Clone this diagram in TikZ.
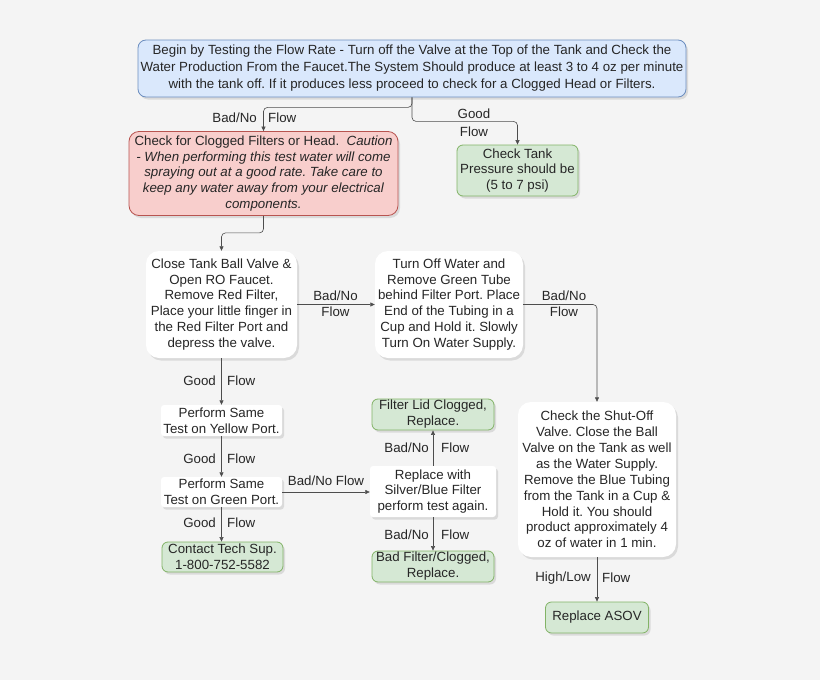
\documentclass[tikz,border=0pt]{standalone}
\usepackage{fontspec}
\setmainfont{Liberation Sans}
\usepackage{xcolor}
\usetikzlibrary{arrows.meta,shadows}

\definecolor{bgc}{HTML}{F4F4F4}
\definecolor{bluefill}{HTML}{DAE8FC}
\definecolor{bluedraw}{HTML}{6C8EBF}
\definecolor{redfill}{HTML}{F8CECC}
\definecolor{reddraw}{HTML}{B85450}
\definecolor{greenfill}{HTML}{D5E8D4}
\definecolor{greendraw}{HTML}{82B366}
\definecolor{linec}{HTML}{4D4D4D}
\newcommand\boxfont{\fontsize{13.3}{15.9}\selectfont\frenchspacing}
\newcommand\topfont{\fontsize{13.3}{17}\selectfont\frenchspacing}

\tikzset{
  box/.style={align=center, inner sep=0pt, font=\boxfont, text=black!85,
    drop shadow={shadow xshift=2pt, shadow yshift=-2.5pt, opacity=0.22}},
  bluebox/.style={box, rounded corners=8pt, fill=bluefill, draw=bluedraw, line width=0.8pt, font=\topfont},
  redbox/.style={box, rounded corners=10pt, fill=redfill, draw=reddraw, line width=0.8pt},
  greenbox/.style={box, rounded corners=6pt, fill=greenfill, draw=greendraw, line width=0.8pt},
  whitebox/.style={box, rounded corners=13pt, fill=white},
  portbox/.style={box, rounded corners=3pt, fill=white},
  conn/.style={draw=linec, line width=0.6pt, -{Triangle[length=4.5pt,width=4pt]}},
  lbl/.style={font=\boxfont, text=black!85, inner sep=0pt}
}

\begin{document}
\begin{tikzpicture}[x=1pt,y=-1pt]
  \fill[bgc] (0,0) rectangle (820,680);
  \useasboundingbox (0,0) rectangle (820,680);

  % boxes
  \node[bluebox, minimum width=548pt, minimum height=57pt] (begin) at (412,68.5)
    {Begin by Testing the Flow Rate - Turn off the Valve at the Top of the Tank and Check the\\
     Water Production From the Faucet.The System Should produce at least 3 to 4 oz per minute\\
     with the tank off. If it produces less proceed to check for a Clogged Head or Filters.};
  \node[redbox, minimum width=269pt, minimum height=84pt] (clog) at (263.5,173.5)
    {Check for Clogged Filters or Head.\ \ \textit{Caution}\\
     \textit{- When performing this test water will come}\\
     \textit{spraying out at a good rate. Take care to}\\
     \textit{keep any water away from your electrical}\\
     \textit{components.}};
  \node[greenbox, minimum width=121pt, minimum height=51pt] (tank) at (517.5,170.5)
    {Check Tank\\Pressure should be\\(5 to 7 psi)};
  \node[whitebox, minimum width=151pt, minimum height=107pt] (ball) at (221.5,304.5)
    {Close Tank Ball Valve \&\\Open RO Faucet.\\Remove Red Filter,\\Place your little finger in\\the Red Filter Port and\\depress the valve.};
  \node[whitebox, minimum width=148pt, minimum height=107pt] (turn) at (449,304.5)
    {Turn Off Water and\\Remove Green Tube\\behind Filter Port. Place\\End of the Tubing in a\\Cup and Hold it. Slowly\\Turn On Water Supply.};
  \node[whitebox, minimum width=158pt, minimum height=155pt] (shut) at (597,479.5)
    {Check the Shut-Off\\Valve. Close the Ball\\Valve on the Tank as well\\as the Water Supply.\\Remove the Blue Tubing\\from the Tank in a Cup \&\\Hold it. You should\\product approximately 4\\oz of water in 1 min.};
  \node[greenbox, minimum width=103pt, minimum height=31pt] (asov) at (597,617.5) {Replace ASOV};
  \node[portbox, minimum width=121pt, minimum height=31pt] (yellow) at (221.5,420.5)
    {Perform Same\\Test on Yellow Port.};
  \node[portbox, minimum width=121pt, minimum height=30pt] (greenp) at (221.5,492)
    {Perform Same\\Test on Green Port.};
  \node[greenbox, minimum width=121pt, minimum height=30pt] (contact) at (222.5,557)
    {Contact Tech Sup.\\1-800-752-5582};
  \node[portbox, minimum width=126pt, minimum height=51pt] (silver) at (433,491.5)
    {Replace with\\Silver/Blue Filter\\perform test again.};
  \node[greenbox, minimum width=122pt, minimum height=31pt] (lid) at (433,414.5)
    {Filter Lid Clogged,\\Replace.};
  \node[greenbox, minimum width=122pt, minimum height=31pt] (badf) at (433,566.5)
    {Bad Filter/Clogged,\\Replace.};

  % connectors
  \draw[conn, rounded corners=4pt] (begin.south) -- ++(0,10) -| (clog.north);
  \draw[conn, rounded corners=4pt] (begin.south) -- ++(0,24) -| (tank.north);
  \draw[conn, rounded corners=4pt] (clog.south) -- ++(0,17) -| (ball.north);
  \draw[conn] (ball.east) -- (turn.west);
  \draw[conn, rounded corners=4pt] (turn.east) -| (shut.north);
  \draw[conn] (shut.south) -- (asov.north);
  \draw[conn] (ball.south) -- (yellow.north);
  \draw[conn] (yellow.south) -- (greenp.north);
  \draw[conn] (greenp.south) -- (greenp.south |- contact.north);
  \draw[conn] (greenp.east) -- (greenp.east -| silver.west);
  \draw[conn] (silver.north) -- (lid.south);
  \draw[conn] (silver.south) -- (badf.north);

  % labels
  \node[lbl, anchor=east] (cloglbla) at (257,118) {Bad/No};
  \node[lbl, anchor=west] (cloglblb) at (268,118) {Flow};
  \node[lbl] (tanklbla) at (474,114) {Good};
  \node[lbl] (tanklblb) at (474,132) {Flow};
  \node[lbl] (turnlbla) at (335.5,296) {Bad/No};
  \node[lbl] (turnlblb) at (335.5,312) {Flow};
  \node[lbl] (shutlbla) at (564,296) {Bad/No};
  \node[lbl] (shutlblb) at (564,312) {Flow};
  \node[lbl, anchor=east] (asovlbla) at (591,578) {High/Low};
  \node[lbl, anchor=west] (asovlblb) at (602,578) {Flow};
  \foreach \y/\n in {381/yellow,459/greenp,523/contact} {
    \node[lbl, anchor=east] (\n lbla) at (216,\y) {Good};
    \node[lbl, anchor=west] (\n lblb) at (227,\y) {Flow};
  }
  \node[lbl] (silverlbl) at (326,481) {Bad/No Flow};
  \foreach \y/\n in {448/lid,535/badf} {
    \node[lbl, anchor=east] (\n lbla) at (429,\y) {Bad/No};
    \node[lbl, anchor=west] (\n lblb) at (441,\y) {Flow};
  }
\end{tikzpicture}
\end{document}
